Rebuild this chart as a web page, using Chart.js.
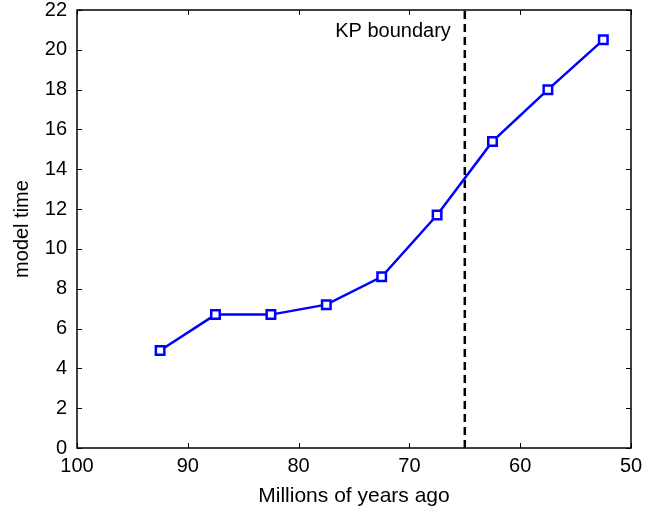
<!DOCTYPE html>
<html>
<head>
<meta charset="utf-8">
<script src="https://cdn.jsdelivr.net/npm/chart.js@4"></script>
<style>
  html, body { margin: 0; padding: 0; background: #fff; }
  #wrap { width: 656px; height: 510px; }
</style>
</head>
<body>
<div id="wrap"><canvas id="myChart" width="656" height="510"></canvas></div>
<script>
// data
var agesMya = [92.5, 87.5, 82.5, 77.5, 72.5, 67.5, 62.5, 57.5, 52.5];
var modelTime = [4.9, 6.7, 6.7, 7.2, 8.6, 11.7, 15.4, 18.0, 20.5];
var kpBoundary = 65;
var kpLabel = 'KP boundary';
var xTicks = [100, 90, 80, 70, 60, 50];
var yTicks = [0, 2, 4, 6, 8, 10, 12, 14, 16, 18, 20, 22];

var FONT = "'Liberation Sans', Arial, Helvetica, sans-serif";

var points = agesMya.map(function(a, i) { return { x: a, y: modelTime[i] }; });

// matlab style box with inward ticks on all four sides + KP label
var boxPlugin = {
  id: 'box',
  afterDraw: function(chart) {
    var ctx = chart.ctx;
    var a = chart.chartArea;
    var xs = chart.scales.x, ys = chart.scales.y;
    var len = 5;
    ctx.save();
    ctx.strokeStyle = '#000';
    ctx.lineWidth = 1.5;
    ctx.strokeRect(a.left, a.top, a.right - a.left, a.bottom - a.top);
    ctx.lineWidth = 1;
    ctx.beginPath();
    xTicks.forEach(function(v) {
      var px = Math.round(xs.getPixelForValue(v)) + 0.5;
      ctx.moveTo(px, a.bottom); ctx.lineTo(px, a.bottom - len);
      ctx.moveTo(px, a.top); ctx.lineTo(px, a.top + len);
    });
    yTicks.forEach(function(v) {
      var py = Math.round(ys.getPixelForValue(v)) + 0.5;
      ctx.moveTo(a.left, py); ctx.lineTo(a.left + len, py);
      ctx.moveTo(a.right, py); ctx.lineTo(a.right - len, py);
    });
    ctx.stroke();
    // boundary label
    ctx.fillStyle = '#000';
    ctx.font = '20px ' + FONT;
    ctx.textAlign = 'right';
    ctx.textBaseline = 'middle';
    ctx.fillText(kpLabel, xs.getPixelForValue(kpBoundary) - 14, ys.getPixelForValue(20.9));
    ctx.restore();
  }
};

var chart = new Chart(document.getElementById('myChart'), {
  type: 'line',
  data: {
    datasets: [{
      data: points,
      borderColor: '#0000ff',
      borderWidth: 2.5,
      pointStyle: 'rect',
      pointRadius: 6,
      pointBorderWidth: 2.5,
      pointBackgroundColor: '#fff',
      pointBorderColor: '#0000ff',
      fill: false,
      tension: 0
    }, {
      data: [{ x: kpBoundary, y: 0 }, { x: kpBoundary, y: 22 }],
      borderColor: '#000',
      borderWidth: 2.5,
      borderDash: [8, 5],
      pointRadius: 0,
      fill: false
    }]
  },
  options: {
    responsive: false,
    animation: false,
    events: [],
    layout: { padding: { top: 0, right: 25, left: 0, bottom: 0 } },
    plugins: {
      legend: { display: false },
      tooltip: { enabled: false }
    },
    scales: {
      x: {
        type: 'linear',
        reverse: true,
        min: 50,
        max: 100,
        grid: { display: false, drawTicks: false },
        border: { display: false },
        afterBuildTicks: function(scale) {
          scale.ticks = xTicks.map(function(v) { return { value: v }; });
        },
        ticks: {
          color: '#000',
          padding: 6,
          maxRotation: 0,
          font: { family: FONT, size: 20 }
        },
        title: {
          display: true,
          text: 'Millions of years ago',
          color: '#000',
          padding: { top: 4, bottom: 1 },
          font: { family: FONT, size: 21 }
        },
        afterFit: function(scale) { scale.height = 62; }
      },
      y: {
        min: 0,
        max: 22,
        grid: { display: false, drawTicks: false },
        border: { display: false },
        afterBuildTicks: function(scale) {
          scale.ticks = yTicks.map(function(v) { return { value: v }; });
        },
        ticks: {
          color: '#000',
          padding: 10,
          font: { family: FONT, size: 20 }
        },
        title: {
          display: true,
          text: 'model time',
          color: '#000',
          padding: { top: 10, bottom: 4 },
          font: { family: FONT, size: 20 }
        },
        afterFit: function(scale) {
          scale.width = 77;
          scale.paddingTop = 10;
          scale.paddingBottom = 0;
        }
      }
    }
  },
  plugins: [boxPlugin]
});
</script>
</body>
</html>
